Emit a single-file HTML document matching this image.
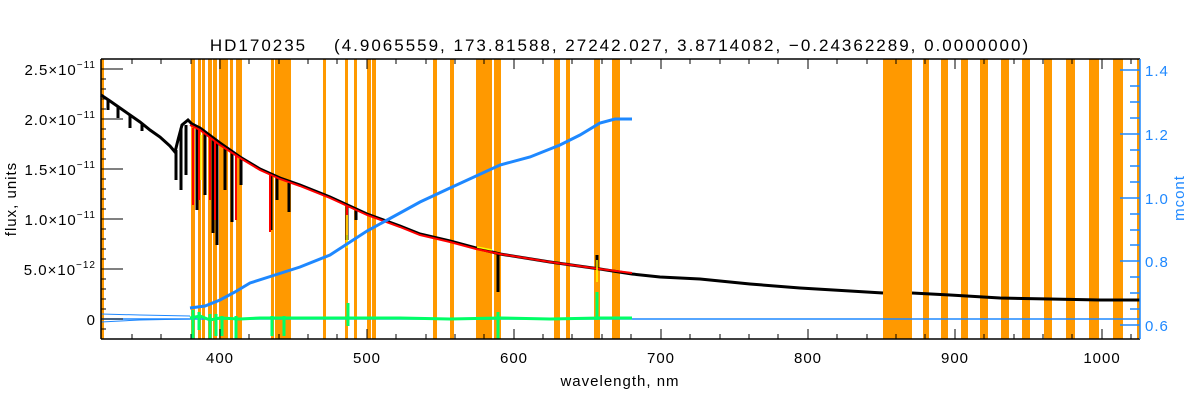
<!DOCTYPE html>
<html><head><meta charset="utf-8"><style>
body{margin:0;background:#fff;}
svg{display:block;font-family:"Liberation Sans",sans-serif;}
</style></head><body>
<svg width="1200" height="400" viewBox="0 0 1200 400" xmlns="http://www.w3.org/2000/svg">
<g fill="#ff9900">
<rect x="101" y="59" width="3" height="280"/>
<rect x="191" y="59" width="4" height="280"/>
<rect x="198" y="59" width="3" height="280"/>
<rect x="202" y="59" width="3" height="280"/>
<rect x="208" y="59" width="4" height="280"/>
<rect x="213" y="59" width="4" height="280"/>
<rect x="219" y="59" width="9" height="280"/>
<rect x="230" y="59" width="3" height="280"/>
<rect x="236" y="59" width="6" height="280"/>
<rect x="271" y="59" width="3" height="280"/>
<rect x="275" y="59" width="16" height="280"/>
<rect x="323" y="59" width="3" height="280"/>
<rect x="345" y="59" width="3" height="280"/>
<rect x="354" y="59" width="3" height="280"/>
<rect x="367" y="59" width="4" height="280"/>
<rect x="372" y="59" width="4" height="280"/>
<rect x="433" y="59" width="4" height="280"/>
<rect x="450" y="59" width="4" height="280"/>
<rect x="476" y="59" width="16" height="280"/>
<rect x="494" y="59" width="7" height="280"/>
<rect x="554" y="59" width="6" height="280"/>
<rect x="566" y="59" width="4" height="280"/>
<rect x="594" y="59" width="6" height="280"/>
<rect x="612" y="59" width="8" height="280"/>
<rect x="883" y="59" width="29" height="280"/>
<rect x="923" y="59" width="6" height="280"/>
<rect x="941" y="59" width="7" height="280"/>
<rect x="961" y="59" width="7" height="280"/>
<rect x="980" y="59" width="8" height="280"/>
<rect x="1001" y="59" width="8" height="280"/>
<rect x="1022" y="59" width="8" height="280"/>
<rect x="1044" y="59" width="8" height="280"/>
<rect x="1066" y="59" width="9" height="280"/>
<rect x="1089" y="59" width="10" height="280"/>
<rect x="1113" y="59" width="10" height="280"/>
<rect x="1137" y="59" width="3" height="280"/>
</g>
<polyline points="101,314 140,315 190,316" fill="none" stroke="#1e88ff" stroke-width="1"/>
<polyline points="101,322 140,320 190,319" fill="none" stroke="#1e88ff" stroke-width="1"/>
<line x1="101" y1="319" x2="1140" y2="319" stroke="#1e88ff" stroke-width="1.5"/>
<polyline fill="none" stroke="#000" stroke-width="3" points="101,95 110,101 120,108 130,115 140,122 150,130 160,137 170,146 175,152 178,140 182,125 188,120 192,124 200,128 220,143 240,157 260,169 280,178 300,185 330,197 367,214 400,226 420,234 450,241 476,248 500,254 550,262 600,269 632,274 660,277 700,279 750,284 800,288 850,291 883,293"/>
<polyline fill="none" stroke="#000" stroke-width="3" points="912,293 950,295 1000,298 1050,299 1100,300 1140,300"/>
<g stroke="#000" stroke-width="3">
<line x1="108" y1="100" x2="108" y2="110"/><line x1="118" y1="106" x2="118" y2="118"/>
<line x1="130" y1="115" x2="130" y2="128"/><line x1="142" y1="123" x2="142" y2="131"/>
<line x1="176" y1="150" x2="176" y2="180"/><line x1="181" y1="128" x2="181" y2="190"/>
<line x1="186" y1="125" x2="186" y2="175"/>
<line x1="197" y1="128" x2="197" y2="210"/><line x1="205" y1="133" x2="205" y2="195"/>
<line x1="213" y1="140" x2="213" y2="233"/><line x1="217" y1="142" x2="217" y2="245"/>
<line x1="225" y1="147" x2="225" y2="190"/><line x1="232" y1="152" x2="232" y2="222"/>
<line x1="241" y1="158" x2="241" y2="185"/>
<line x1="271" y1="175" x2="271" y2="230"/><line x1="277" y1="178" x2="277" y2="200"/>
<line x1="289" y1="183" x2="289" y2="212"/>
<line x1="347" y1="206" x2="347" y2="240"/><line x1="356" y1="210" x2="356" y2="220"/>
<line x1="498" y1="252" x2="498" y2="292"/><line x1="597" y1="255" x2="597" y2="270"/>
</g>
<polyline fill="none" stroke="#ff0000" stroke-width="2" points="190,125 200,130 220,145 240,158 260,170 280,179 300,186 330,198 367,215 400,227 420,235 450,242 476,249 500,254 550,262 600,269 632,273"/>
<g stroke="#ff0000" stroke-width="2">
<line x1="193" y1="128" x2="193" y2="205"/><line x1="199" y1="130" x2="199" y2="200"/>
<line x1="210" y1="138" x2="210" y2="200"/><line x1="215" y1="142" x2="215" y2="220"/>
<line x1="236" y1="155" x2="236" y2="220"/><line x1="270" y1="175" x2="270" y2="232"/>
<line x1="347" y1="206" x2="347" y2="235"/>
</g>
<g stroke="#ffff00" stroke-width="1.5">
<line x1="201" y1="135" x2="201" y2="180"/><line x1="347" y1="215" x2="347" y2="248"/>
<line x1="597" y1="260" x2="597" y2="282"/><line x1="477" y1="247" x2="492" y2="250"/>
</g>
<polyline fill="none" stroke="#00ff66" stroke-width="3" points="190,318 200,316 210,320 220,318 240,319 260,318 300,318 350,318 400,318 450,319 500,318 550,319 600,318 632,318"/>
<g stroke="#00ff66" stroke-width="3">
<line x1="193" y1="310" x2="193" y2="339"/><line x1="199" y1="312" x2="199" y2="330"/>
<line x1="210" y1="314" x2="210" y2="339"/><line x1="216" y1="314" x2="216" y2="336"/>
<line x1="222" y1="316" x2="222" y2="336"/><line x1="236" y1="316" x2="236" y2="339"/>
<line x1="272" y1="316" x2="272" y2="336"/><line x1="284" y1="316" x2="284" y2="336"/>
<line x1="348" y1="303" x2="348" y2="326"/><line x1="498" y1="312" x2="498" y2="339"/>
<line x1="597" y1="292" x2="597" y2="320"/>
</g>
<polyline fill="none" stroke="#1e88ff" stroke-width="3" points="190,308 205,306 220,300 235,292 250,283 275,275 300,267 330,255 367,231 400,213 420,202 450,188 500,165 530,157 560,145 580,135 600,123 615,119 632,119"/>
<g stroke="#000" stroke-width="1.5" fill="none">
<line x1="101" y1="59" x2="1140" y2="59"/>
<line x1="101" y1="339" x2="1140" y2="339"/>
<line x1="101" y1="59" x2="101" y2="339"/>
</g>
<g stroke="#000" stroke-width="1">
<path d="M101,69h22M101,119h22M101,169h22M101,219h22M101,269h22M101,319h22"/>
<path d="M101,79h5M101,89h5M101,99h5M101,109h5M101,129h5M101,139h5M101,149h5M101,159h5M101,179h5M101,189h5M101,199h5M101,209h5M101,229h5M101,239h5M101,249h5M101,259h5M101,279h5M101,289h5M101,299h5M101,309h5M101,329h5"/>
<path d="M220,339v-10M367,339v-10M514,339v-10M661,339v-10M808,339v-10M955,339v-10M1102,339v-10M220,59v10M367,59v10M514,59v10M661,59v10M808,59v10M955,59v10M1102,59v10"/>
<path d="M132,339v-5M161,339v-5M191,339v-5M249,339v-5M279,339v-5M308,339v-5M337,339v-5M396,339v-5M426,339v-5M455,339v-5M484,339v-5M543,339v-5M572,339v-5M602,339v-5M631,339v-5M690,339v-5M720,339v-5M749,339v-5M778,339v-5M837,339v-5M867,339v-5M896,339v-5M925,339v-5M984,339v-5M1014,339v-5M1043,339v-5M1072,339v-5M1131,339v-5"/>
<path d="M132,59v5M161,59v5M191,59v5M249,59v5M279,59v5M308,59v5M337,59v5M396,59v5M426,59v5M455,59v5M484,59v5M543,59v5M572,59v5M602,59v5M631,59v5M690,59v5M720,59v5M749,59v5M778,59v5M837,59v5M867,59v5M896,59v5M925,59v5M984,59v5M1014,59v5M1043,59v5M1072,59v5M1131,59v5"/>
</g>
<g stroke="#1e88ff" stroke-width="1.5">
<line x1="1140" y1="59" x2="1140" y2="339"/>
<path d="M1140,70h-20M1140,134h-20M1140,198h-20M1140,261h-20M1140,325h-20M1140,86h-10M1140,102h-10M1140,118h-10M1140,150h-10M1140,166h-10M1140,182h-10M1140,214h-10M1140,230h-10M1140,245h-10M1140,277h-10M1140,293h-10M1140,309h-10"/>
</g>
<g font-size="15" fill="#000" text-anchor="end" letter-spacing="1">
<text x="96" y="75">2.5×10<tspan font-size="10" dy="-7">−11</tspan></text>
<text x="96" y="125">2.0×10<tspan font-size="10" dy="-7">−11</tspan></text>
<text x="96" y="175">1.5×10<tspan font-size="10" dy="-7">−11</tspan></text>
<text x="96" y="225">1.0×10<tspan font-size="10" dy="-7">−11</tspan></text>
<text x="96" y="275">5.0×10<tspan font-size="10" dy="-7">−12</tspan></text>
<text x="96" y="325">0</text>
</g>
<g font-size="15" fill="#000" text-anchor="middle" letter-spacing="1">
<text x="220" y="363">400</text><text x="367" y="363">500</text><text x="514" y="363">600</text><text x="661" y="363">700</text><text x="808" y="363">800</text><text x="955" y="363">900</text><text x="1102" y="363">1000</text>
<text x="620" y="386">wavelength, nm</text>
<text x="620" y="51" font-size="17" letter-spacing="2" xml:space="preserve">HD170235    (4.9065559, 173.81588, 27242.027, 3.8714082, −0.24362289, 0.0000000)</text>
<text transform="translate(16,199) rotate(-90)">flux, units</text>
<text transform="translate(1184,198) rotate(-90)" fill="#1e88ff">mcont</text>
</g>
<g font-size="15" fill="#1e88ff" letter-spacing="1">
<text x="1145" y="76">1.4</text><text x="1145" y="140">1.2</text><text x="1145" y="204">1.0</text><text x="1145" y="267">0.8</text><text x="1145" y="331">0.6</text>
</g>
</svg>
</body></html>
